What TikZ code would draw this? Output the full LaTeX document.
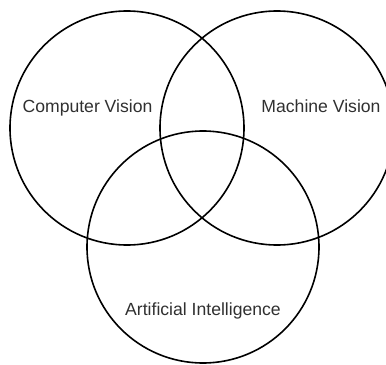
\documentclass[tikz,border=0pt]{standalone}
\usepackage{fontspec}
\setmainfont{Liberation Sans}
\definecolor{txt}{HTML}{303030}
\begin{document}
\begin{tikzpicture}[x=1bp,y=-1bp,
  ring/.style={draw=black,line width=1.6bp},
  lbl/.style={anchor=base,inner sep=0pt,text=txt,font=\fontsize{17.6bp}{20bp}\selectfont}]
\useasboundingbox (0,0) rectangle (386,365);
\path[clip] (0,0) rectangle (386,365);
\draw[ring] (127,128) circle[radius=117bp];
\draw[ring] (277,128) circle[radius=117bp];
\draw[ring] (203,247) circle[radius=116bp];
\node[lbl] (cv) at (87.5,112.5) {Computer Vision};
\node[lbl] (mv) at (321,112.5) {Machine Vision};
\node[lbl] (ai) at (203,315) {Artificial Intelligence};
\end{tikzpicture}
\end{document}
